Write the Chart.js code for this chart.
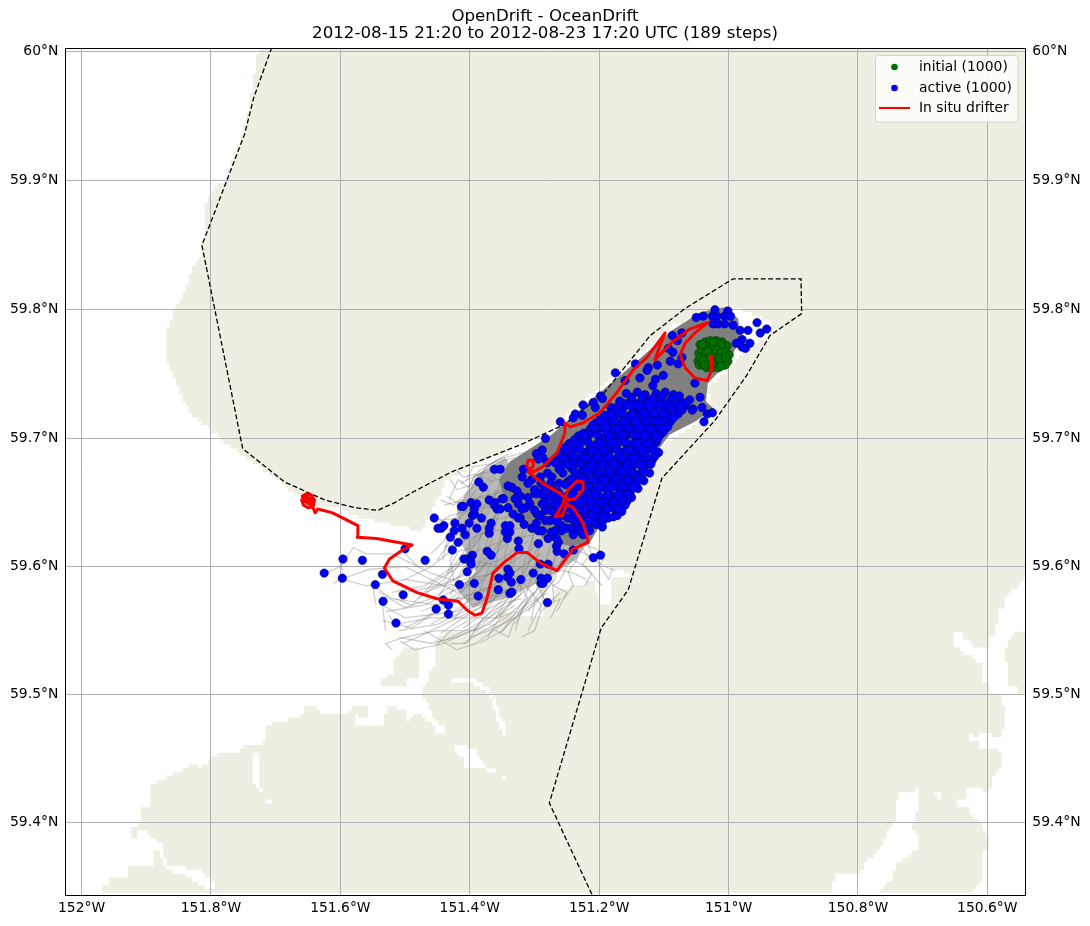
<!DOCTYPE html>
<html>
<head>
<meta charset="utf-8">
<style>
  html, body { margin: 0; padding: 0; background: #fff; }
  #wrap { width: 1090px; height: 926px; }
</style>
<script src="https://cdn.jsdelivr.net/npm/chart.js@4/dist/chart.umd.js"></script>
</head>
<body>
<div id="wrap"><canvas id="map" width="1090" height="926"></canvas></div>
<script>
const titleLines = ['OpenDrift - OceanDrift', '2012-08-15 21:20 to 2012-08-23 17:20 UTC (189 steps)'];
const lonTicks = [-152, -151.8, -151.6, -151.4, -151.2, -151, -150.8, -150.6];
const lonLabels = ['152°W', '151.8°W', '151.6°W', '151.4°W', '151.2°W', '151°W', '150.8°W', '150.6°W'];
const latTicks = [60, 59.9, 59.8, 59.7, 59.6, 59.5, 59.4];
const latLabels = ['60°N', '59.9°N', '59.8°N', '59.7°N', '59.6°N', '59.5°N', '59.4°N'];
const legendLabels = ['initial (1000)', 'active (1000)', 'In situ drifter'];

// sea, west of the land mass and up the inlet
const seaWest = [[-151.726,60.003],[-151.726,60.001],[-151.731,59.991],[-151.734,59.975],[-151.740,59.960],[-151.744,59.947],[-151.755,59.931],[-151.771,59.913],[-151.778,59.900],[-151.789,59.898],[-151.806,59.887],[-151.809,59.875],[-151.809,59.860],[-151.817,59.840],[-151.828,59.833],[-151.837,59.820],[-151.845,59.809],[-151.853,59.802],[-151.860,59.798],[-151.863,59.789],[-151.871,59.782],[-151.871,59.766],[-151.863,59.753],[-151.853,59.743],[-151.840,59.727],[-151.828,59.717],[-151.802,59.708],[-151.786,59.699],[-151.758,59.689],[-151.740,59.683],[-151.717,59.674],[-151.693,59.666],[-151.683,59.661],[-151.663,59.654],[-151.632,59.646],[-151.601,59.646],[-151.574,59.639],[-151.544,59.635],[-151.503,59.631],[-151.477,59.628],[-151.458,59.644],[-151.435,59.669],[-151.415,59.671],[-151.389,59.682],[-151.353,59.687],[-151.322,59.697],[-151.287,59.704],[-151.230,59.727],[-151.199,59.740],[-151.148,59.761],[-151.086,59.788],[-151.049,59.793],[-150.998,59.803],[-150.975,59.799],[-150.933,59.790],[-150.936,59.780],[-150.975,59.768],[-150.998,59.753],[-151.034,59.740],[-151.024,59.719],[-151.106,59.693],[-151.122,59.673],[-151.137,59.665],[-151.183,59.649],[-151.203,59.628],[-151.199,59.613],[-151.191,59.601],[-151.152,59.595],[-151.152,59.591],[-151.180,59.593],[-151.180,59.570],[-151.199,59.570],[-151.207,59.589],[-151.268,59.581],[-151.284,59.570],[-151.285,59.562],[-151.333,59.562],[-151.333,59.565],[-151.353,59.565],[-151.353,59.557],[-151.373,59.553],[-151.399,59.550],[-151.435,59.550],[-151.451,59.542],[-151.451,59.525],[-151.465,59.516],[-151.465,59.509],[-151.474,59.507],[-151.474,59.497],[-151.465,59.493],[-151.451,59.478],[-151.438,59.476],[-151.438,59.471],[-151.451,59.471],[-151.457,59.476],[-151.474,59.484],[-151.488,59.484],[-151.496,59.479],[-151.496,59.496],[-151.485,59.496],[-151.500,59.488],[-151.513,59.488],[-151.516,59.492],[-151.527,59.492],[-151.534,59.476],[-151.575,59.476],[-151.575,59.484],[-151.557,59.480],[-151.557,59.488],[-151.562,59.492],[-151.581,59.492],[-151.588,59.484],[-151.621,59.484],[-151.635,59.488],[-151.635,59.492],[-151.655,59.492],[-151.659,59.484],[-151.689,59.479],[-151.714,59.476],[-151.714,59.463],[-151.751,59.459],[-151.758,59.454],[-151.783,59.454],[-151.797,59.451],[-151.802,59.447],[-151.817,59.443],[-151.829,59.447],[-151.833,59.443],[-151.851,59.439],[-151.871,59.434],[-151.893,59.430],[-151.896,59.412],[-151.908,59.410],[-151.908,59.400],[-151.921,59.396],[-151.921,59.388],[-151.915,59.388],[-151.915,59.394],[-151.901,59.394],[-151.894,59.388],[-151.876,59.384],[-151.876,59.375],[-151.867,59.367],[-151.840,59.367],[-151.840,59.362],[-151.817,59.362],[-151.802,59.355],[-151.791,59.347],[-151.799,59.347],[-151.814,59.350],[-151.828,59.355],[-151.840,59.359],[-151.867,59.362],[-151.876,59.367],[-151.876,59.371],[-151.879,59.379],[-151.891,59.379],[-151.891,59.367],[-151.927,59.367],[-151.930,59.355],[-151.959,59.355],[-151.959,59.350],[-151.969,59.350],[-151.969,59.3445],[-152.034,59.3445],[-152.034,60.003]];
const seaEast = [[-150.539,59.593],[-150.553,59.585],[-150.565,59.579],[-150.574,59.575],[-150.574,59.567],[-150.583,59.567],[-150.583,59.554],[-150.587,59.554],[-150.587,59.546],[-150.600,59.546],[-150.600,59.538],[-150.621,59.538],[-150.621,59.541],[-150.635,59.542],[-150.638,59.550],[-150.650,59.550],[-150.653,59.542],[-150.650,59.538],[-150.641,59.537],[-150.638,59.530],[-150.625,59.530],[-150.621,59.527],[-150.608,59.525],[-150.607,59.511],[-150.599,59.507],[-150.599,59.500],[-150.580,59.500],[-150.576,59.496],[-150.574,59.472],[-150.579,59.472],[-150.579,59.467],[-150.593,59.467],[-150.596,59.471],[-150.621,59.467],[-150.624,59.471],[-150.630,59.464],[-150.613,59.464],[-150.613,59.459],[-150.585,59.459],[-150.579,59.454],[-150.579,59.442],[-150.585,59.438],[-150.593,59.437],[-150.594,59.426],[-150.600,59.423],[-150.608,59.426],[-150.630,59.426],[-150.633,59.417],[-150.647,59.417],[-150.647,59.413],[-150.630,59.412],[-150.624,59.405],[-150.616,59.401],[-150.607,59.396],[-150.596,59.384],[-150.600,59.379],[-150.611,59.379],[-150.607,59.370],[-150.607,59.356],[-150.614,59.350],[-150.622,59.346],[-150.639,59.3445],[-150.539,59.3445],[-150.539,59.500],[-150.553,59.500],[-150.555,59.505],[-150.569,59.509],[-150.569,59.520],[-150.563,59.522],[-150.572,59.527],[-150.572,59.535],[-150.569,59.542],[-150.560,59.546],[-150.556,59.550],[-150.539,59.550]];
const seaChannel = [[-150.707,59.430],[-150.712,59.425],[-150.731,59.425],[-150.738,59.421],[-150.741,59.401],[-150.754,59.392],[-150.762,59.380],[-150.782,59.371],[-150.797,59.361],[-150.836,59.358],[-150.840,59.3445],[-150.769,59.3445],[-150.761,59.351],[-150.746,59.356],[-150.743,59.367],[-150.727,59.371],[-150.707,59.380],[-150.707,59.391],[-150.715,59.392],[-150.713,59.408],[-150.706,59.409],[-150.704,59.427]];
const seaBottom = [[-152.03,59.3445],[-150.53,59.3445],[-150.53,59.335],[-152.03,59.335]];
const creekA = [[-151.428,59.513],[-151.388,59.513],[-151.388,59.509],[-151.372,59.506],[-151.367,59.501],[-151.358,59.496],[-151.356,59.486],[-151.350,59.481],[-151.344,59.476],[-151.343,59.467],[-151.349,59.467],[-151.353,59.477],[-151.360,59.483],[-151.363,59.492],[-151.369,59.499],[-151.381,59.504],[-151.397,59.509],[-151.428,59.509]];
const creekB = [[-151.426,59.460],[-151.404,59.459],[-151.393,59.459],[-151.387,59.451],[-151.375,59.445],[-151.375,59.442],[-151.406,59.442],[-151.411,59.450],[-151.421,59.455]];
const creekC = [[-151.372,59.442],[-151.358,59.442],[-151.358,59.439],[-151.372,59.439]];
const creekD = [[-151.350,59.437],[-151.343,59.437],[-151.343,59.432],[-151.350,59.432]];
const creekE = [[-151.735,59.453],[-151.726,59.457],[-151.726,59.435],[-151.721,59.423],[-151.729,59.426],[-151.737,59.433],[-151.734,59.442]];
const creekF = [[-151.716,59.419],[-151.708,59.419],[-151.708,59.414],[-151.716,59.414]];
const creekG = [[-150.683,59.426],[-150.672,59.422],[-150.672,59.417],[-150.680,59.420]];
const island = [[-151.539,59.513],[-151.527,59.513],[-151.527,59.517],[-151.519,59.517],[-151.519,59.525],[-151.508,59.532],[-151.500,59.538],[-151.480,59.538],[-151.480,59.513],[-151.496,59.513],[-151.496,59.505],[-151.539,59.505]];

const domainLine = [[-151.706,60.003],[-151.734,59.964],[-151.748,59.936],[-151.814,59.850],[-151.751,59.692],[-151.686,59.666],[-151.624,59.652],[-151.578,59.646],[-151.542,59.644],[-151.516,59.650],[-151.485,59.659],[-151.428,59.674],[-151.322,59.695],[-151.253,59.711],[-151.193,59.735],[-151.121,59.780],[-151.067,59.801],[-150.993,59.824],[-150.888,59.824],[-150.887,59.797],[-150.936,59.780],[-150.972,59.749],[-151.021,59.714],[-151.103,59.669],[-151.155,59.582],[-151.197,59.552],[-151.277,59.415],[-151.211,59.343]];

const drifter = [[-151.027,59.764],[-151.026,59.753],[-151.033,59.745],[-151.052,59.747],[-151.067,59.755],[-151.075,59.765],[-151.067,59.774],[-151.052,59.782],[-151.032,59.790],[-151.060,59.785],[-151.087,59.775],[-151.114,59.761],[-151.106,59.772],[-151.098,59.782],[-151.126,59.763],[-151.148,59.753],[-151.172,59.736],[-151.199,59.720],[-151.225,59.712],[-151.245,59.709],[-151.253,59.712],[-151.253,59.704],[-151.265,59.689],[-151.287,59.678],[-151.302,59.674],[-151.312,59.678],[-151.310,59.683],[-151.302,59.683],[-151.302,59.678],[-151.310,59.674],[-151.287,59.665],[-151.260,59.657],[-151.250,59.652],[-151.237,59.653],[-151.225,59.660],[-151.225,59.666],[-151.234,59.667],[-151.248,59.660],[-151.256,59.649],[-151.268,59.639],[-151.257,59.640],[-151.250,59.649],[-151.240,59.646],[-151.227,59.636],[-151.219,59.625],[-151.217,59.619],[-151.240,59.614],[-151.265,59.597],[-151.291,59.603],[-151.311,59.611],[-151.327,59.611],[-151.348,59.603],[-151.364,59.595],[-151.373,59.576],[-151.381,59.564],[-151.392,59.562],[-151.404,59.566],[-151.418,59.573],[-151.451,59.575],[-151.482,59.580],[-151.519,59.589],[-151.532,59.599],[-151.524,59.606],[-151.504,59.613],[-151.489,59.617],[-151.544,59.622],[-151.574,59.623],[-151.573,59.632],[-151.612,59.642],[-151.635,59.645],[-151.639,59.642],[-151.644,59.648],[-151.655,59.651],[-151.659,59.655],[-151.652,59.657],[-151.645,59.656],[-151.640,59.652],[-151.642,59.647],[-151.650,59.646],[-151.657,59.648],[-151.660,59.652],[-151.653,59.655],[-151.645,59.653],[-151.644,59.650],[-151.650,59.649],[-151.654,59.652],[-151.649,59.653],[-151.647,59.651],[-151.650,59.651]];

// the part of the inlet where the tracks merge into solid grey
const trackCore = [[-151.044,59.798],[-151.006,59.802],[-150.985,59.793],[-150.982,59.776],[-151.001,59.759],[-151.032,59.743],[-151.035,59.729],[-151.023,59.723],[-151.052,59.713],[-151.091,59.703],[-151.106,59.693],[-151.119,59.674],[-151.140,59.664],[-151.180,59.649],[-151.199,59.632],[-151.214,59.619],[-151.245,59.616],[-151.284,59.622],[-151.320,59.634],[-151.345,59.650],[-151.355,59.668],[-151.338,59.682],[-151.307,59.692],[-151.273,59.703],[-151.226,59.724],[-151.191,59.739],[-151.144,59.759],[-151.087,59.784]];
const trackShade = [[-151.345,59.685],[-151.385,59.673],[-151.420,59.645],[-151.415,59.620],[-151.390,59.596],[-151.420,59.582],[-151.395,59.568],[-151.340,59.576],[-151.285,59.590],[-151.235,59.606],[-151.214,59.622],[-151.300,59.650]];
const fanTracks = [
  [[-151.33,59.67],[-151.39,59.665],[-151.42,59.66],[-151.43,59.668]],
  [[-151.33,59.66],[-151.38,59.655],[-151.42,59.65],[-151.435,59.655]],
  [[-151.34,59.65],[-151.39,59.645],[-151.43,59.64],[-151.455,59.632]],
  [[-151.33,59.64],[-151.38,59.635],[-151.425,59.632],[-151.46,59.64]],
  [[-151.32,59.63],[-151.37,59.628],[-151.41,59.62],[-151.44,59.615]],
  [[-151.30,59.625],[-151.35,59.62],[-151.40,59.61],[-151.42,59.60]],
  [[-151.36,59.675],[-151.41,59.67],[-151.42,59.675]],
  [[-151.32,59.65],[-151.35,59.62],[-151.40,59.595],[-151.45,59.585],[-151.50,59.58]],
  [[-151.40,59.585],[-151.46,59.595],[-151.52,59.61],[-151.56,59.61],[-151.58,59.615],[-151.60,59.60],[-151.625,59.595]],
  [[-151.42,59.58],[-151.50,59.60],[-151.555,59.598],[-151.60,59.59],[-151.611,59.587]],
  [[-151.38,59.59],[-151.44,59.585],[-151.50,59.59],[-151.56,59.585],[-151.595,59.59],[-151.60,59.605]],
  [[-151.36,59.585],[-151.45,59.57],[-151.52,59.575],[-151.55,59.585],[-151.545,59.57]],
  [[-151.35,59.58],[-151.42,59.565],[-151.50,59.56],[-151.535,59.57],[-151.53,59.55]],
  [[-151.34,59.575],[-151.40,59.56],[-151.46,59.56],[-151.515,59.555],[-151.525,59.562]],
  [[-151.33,59.57],[-151.39,59.55],[-151.45,59.55],[-151.50,59.545],[-151.53,59.54],[-151.52,59.535]],
  [[-151.35,59.57],[-151.38,59.555],[-151.44,59.54],[-151.485,59.535],[-151.508,59.542]],
  [[-151.33,59.575],[-151.37,59.555],[-151.42,59.545],[-151.46,59.54],[-151.51,59.545]],
  [[-151.30,59.575],[-151.35,59.555],[-151.39,59.54],[-151.42,59.535],[-151.47,59.55]],
  [[-151.42,59.60],[-151.48,59.60],[-151.50,59.61],[-151.49,59.62]],
  [[-151.30,59.58],[-151.33,59.56],[-151.37,59.55],[-151.40,59.545]],
  [[-151.28,59.58],[-151.32,59.565],[-151.35,59.55],[-151.385,59.54]],
  [[-151.27,59.59],[-151.30,59.57],[-151.33,59.56],[-151.34,59.545],[-151.36,59.55]],
  [[-151.26,59.58],[-151.29,59.565],[-151.30,59.55],[-151.32,59.545]],
  [[-151.24,59.625],[-151.22,59.61],[-151.19,59.60],[-151.175,59.597]],
  [[-151.24,59.615],[-151.205,59.605],[-151.185,59.59],[-151.18,59.598]],
  [[-151.26,59.61],[-151.22,59.60],[-151.205,59.59],[-151.195,59.585]],
  [[-151.25,59.62],[-151.21,59.615],[-151.19,59.61],[-151.20,59.60]],
  [[-151.28,59.60],[-151.24,59.595],[-151.22,59.59]],
  [[-151.30,59.60],[-151.27,59.585],[-151.25,59.58],[-151.265,59.565]],
  [[-151.30,59.59],[-151.28,59.57],[-151.26,59.575],[-151.275,59.56]],
  [[-151.32,59.59],[-151.29,59.57],[-151.31,59.55]],
  [[-151.34,59.60],[-151.31,59.575],[-151.33,59.555]],
  [[-151.33,59.68],[-151.36,59.64],[-151.38,59.61],[-151.40,59.585]],
  [[-151.31,59.66],[-151.34,59.63],[-151.37,59.60],[-151.39,59.575]],
  [[-151.29,59.65],[-151.32,59.62],[-151.35,59.59],[-151.38,59.565]],
  [[-151.27,59.64],[-151.30,59.61],[-151.33,59.585],[-151.36,59.56]],
  [[-151.35,59.67],[-151.38,59.63],[-151.42,59.60],[-151.45,59.575]],
  [[-151.37,59.66],[-151.39,59.625],[-151.44,59.59],[-151.48,59.575]],
  [[-151.38,59.65],[-151.41,59.62],[-151.46,59.60],[-151.50,59.59]],
  [[-151.39,59.66],[-151.42,59.64],[-151.44,59.62],[-151.46,59.61]],
  [[-151.30,59.63],[-151.31,59.60],[-151.34,59.57]],
  [[-151.26,59.62],[-151.28,59.59],[-151.31,59.565]],
  [[-151.25,59.63],[-151.26,59.60],[-151.29,59.58]],
  [[-151.36,59.64],[-151.41,59.605],[-151.47,59.585],[-151.52,59.58]],
  [[-151.34,59.62],[-151.41,59.585],[-151.47,59.57],[-151.53,59.565]],
  [[-151.32,59.60],[-151.39,59.57],[-151.45,59.555],[-151.51,59.55]],
  [[-151.35,59.685],[-151.385,59.675],[-151.402,59.662],[-151.418,59.668],[-151.432,59.652]],
  [[-151.34,59.68],[-151.372,59.668],[-151.392,59.672],[-151.41,59.652],[-151.44,59.648]],
  [[-151.33,59.672],[-151.365,59.655],[-151.398,59.652],[-151.416,59.638],[-151.448,59.636]],
  [[-151.35,59.66],[-151.378,59.648],[-151.405,59.628],[-151.428,59.622],[-151.45,59.605]],
  [[-151.34,59.655],[-151.372,59.632],[-151.395,59.615],[-151.418,59.612],[-151.435,59.595]],
  [[-151.36,59.66],[-151.376,59.64],[-151.388,59.612],[-151.412,59.598],[-151.43,59.578]],
  [[-151.345,59.665],[-151.36,59.632],[-151.378,59.60],[-151.41,59.582],[-151.44,59.562]],
  [[-151.33,59.655],[-151.352,59.628],[-151.36,59.60],[-151.388,59.585],[-151.425,59.558]],
  [[-151.32,59.645],[-151.345,59.612],[-151.35,59.585],[-151.375,59.565],[-151.41,59.552]],
  [[-151.31,59.64],[-151.33,59.61],[-151.338,59.58],[-151.362,59.568],[-151.395,59.55]],
  [[-151.295,59.635],[-151.318,59.60],[-151.322,59.578],[-151.348,59.565],[-151.372,59.545]],
  [[-151.285,59.63],[-151.30,59.60],[-151.315,59.575],[-151.335,59.56],[-151.352,59.548]],
  [[-151.27,59.625],[-151.285,59.60],[-151.298,59.58],[-151.318,59.568],[-151.33,59.55]],
  [[-151.255,59.625],[-151.272,59.60],[-151.282,59.582],[-151.30,59.572],[-151.305,59.558]],
  [[-151.24,59.62],[-151.262,59.602],[-151.268,59.59],[-151.285,59.58],[-151.292,59.565]],
  [[-151.232,59.612],[-151.25,59.60],[-151.262,59.588],[-151.272,59.585],[-151.27,59.572]],
  [[-151.228,59.62],[-151.235,59.605],[-151.248,59.596],[-151.24,59.585],[-151.255,59.575]],
  [[-151.22,59.622],[-151.212,59.61],[-151.226,59.602],[-151.212,59.594],[-151.222,59.585]],
  [[-151.31,59.62],[-151.355,59.605],[-151.40,59.598],[-151.43,59.588],[-151.468,59.58]],
  [[-151.30,59.615],[-151.345,59.60],[-151.39,59.59],[-151.43,59.575],[-151.475,59.565]],
  [[-151.29,59.61],[-151.335,59.595],[-151.38,59.58],[-151.425,59.565],[-151.46,59.555]],
  [[-151.28,59.605],[-151.32,59.59],[-151.37,59.572],[-151.41,59.56],[-151.445,59.548]],
  [[-151.27,59.60],[-151.31,59.583],[-151.355,59.565],[-151.40,59.552],[-151.44,59.542]],
  [[-151.26,59.60],[-151.30,59.58],[-151.345,59.56],[-151.385,59.548],[-151.41,59.54]],
  [[-151.35,59.60],[-151.40,59.605],[-151.455,59.588],[-151.49,59.57],[-151.515,59.575]],
  [[-151.36,59.595],[-151.41,59.59],[-151.46,59.575],[-151.50,59.568],[-151.54,59.58]],
  [[-151.345,59.59],[-151.40,59.578],[-151.45,59.565],[-151.49,59.552],[-151.535,59.558]],
  [[-151.34,59.582],[-151.385,59.568],[-151.44,59.555],[-151.48,59.545],[-151.505,59.54]],
  [[-151.33,59.585],[-151.38,59.575],[-151.425,59.575],[-151.47,59.56],[-151.50,59.552]],
  [[-151.33,59.565],[-151.355,59.56],[-151.395,59.56],[-151.43,59.55],[-151.452,59.538]],
  [[-151.32,59.575],[-151.345,59.572],[-151.38,59.56],[-151.405,59.54],[-151.43,59.54]],
  [[-151.33,59.685],[-151.37,59.68],[-151.395,59.678],[-151.405,59.668]],
  [[-151.31,59.69],[-151.36,59.683],[-151.385,59.672],[-151.415,59.665]],
  [[-151.34,59.688],[-151.375,59.678],[-151.388,59.665],[-151.425,59.648],[-151.445,59.652]],
  [[-151.36,59.67],[-151.395,59.648],[-151.42,59.635],[-151.435,59.62],[-151.442,59.605]],
  [[-151.355,59.655],[-151.385,59.642],[-151.415,59.625],[-151.43,59.605],[-151.425,59.59]]
];

const initialPoints = [[-151.044,59.773],[-151.036,59.775],[-151.028,59.776],[-151.019,59.776],[-151.010,59.775],[-151.002,59.772],[-151.046,59.766],[-151.042,59.769],[-151.033,59.771],[-151.024,59.772],[-151.015,59.771],[-151.006,59.768],[-150.999,59.765],[-151.047,59.760],[-151.044,59.763],[-151.036,59.765],[-151.027,59.766],[-151.018,59.765],[-151.009,59.763],[-151.001,59.760],[-151.045,59.757],[-151.040,59.758],[-151.031,59.760],[-151.022,59.760],[-151.013,59.759],[-151.005,59.757],[-151.034,59.755],[-151.025,59.755],[-151.016,59.755],[-151.040,59.773],[-151.023,59.775],[-151.012,59.773],[-151.032,59.768],[-151.019,59.769],[-151.011,59.767],[-151.039,59.761],[-151.028,59.763],[-151.014,59.762],[-151.004,59.763],[-151.037,59.757],[-151.026,59.758],[-151.012,59.756]];
const activeOuter = [[-151.596,59.606],[-151.566,59.605],[-151.625,59.595],[-151.597,59.591],[-151.535,59.594],[-151.546,59.586],[-151.534,59.573],[-151.503,59.578],[-151.514,59.556],[-151.500,59.614],[-151.469,59.605],[-151.452,59.567],[-151.441,59.574],[-151.433,59.570],[-151.433,59.563],[-151.416,59.586],[-151.393,59.587],[-151.387,59.577],[-151.404,59.596],[-151.355,59.591],[-151.356,59.582],[-151.342,59.592],[-151.341,59.598],[-151.338,59.595],[-151.336,59.588],[-151.338,59.579],[-151.335,59.580],[-151.321,59.590],[-151.302,59.595],[-151.290,59.591],[-151.280,59.591],[-151.290,59.587],[-151.287,59.587],[-151.280,59.572],[-151.291,59.602],[-151.279,59.602],[-151.209,59.607],[-151.198,59.609],[-151.240,59.613],[-151.254,59.610],[-151.265,59.612],[-151.266,59.616],[-151.263,59.619],[-151.266,59.622],[-151.294,59.618],[-151.279,59.622],[-151.304,59.630],[-151.294,59.628],[-151.288,59.628],[-151.274,59.627],[-151.324,59.614],[-151.325,59.620],[-151.342,59.622],[-151.338,59.627],[-151.345,59.627],[-151.345,59.632],[-151.338,59.632],[-151.316,59.633],[-151.297,59.634],[-151.367,59.609],[-151.373,59.612],[-151.370,59.626],[-151.370,59.630],[-151.367,59.634],[-151.389,59.630],[-151.407,59.625],[-151.418,59.619],[-151.427,59.613],[-151.430,59.623],[-151.424,59.628],[-151.412,59.630],[-151.401,59.634],[-151.423,59.634],[-151.455,59.638],[-151.440,59.632],[-151.444,59.630],[-151.449,59.630],[-151.382,59.638],[-151.396,59.640],[-151.393,59.641],[-151.393,59.645],[-151.413,59.647],[-151.410,59.647],[-151.398,59.650],[-151.389,59.649],[-151.370,59.652],[-151.361,59.650],[-151.362,59.648],[-151.358,59.645],[-151.353,59.645],[-151.350,59.653],[-151.341,59.646],[-151.379,59.662],[-151.386,59.666],[-151.409,59.606],[-151.404,59.606],[-151.396,59.609],[-151.399,59.605],[-151.398,59.602]];
const activeMiddle = [[-151.335,59.662],[-151.341,59.663],[-151.327,59.659],[-151.322,59.655],[-151.330,59.653],[-151.325,59.649],[-151.310,59.654],[-151.307,59.649],[-151.299,59.657],[-151.294,59.657],[-151.314,59.646],[-151.319,59.645],[-151.322,59.638],[-151.325,59.638],[-151.333,59.641],[-151.348,59.653],[-151.291,59.640],[-151.283,59.636],[-151.276,59.636],[-151.296,59.641],[-151.288,59.649],[-151.271,59.648],[-151.283,59.644],[-151.268,59.641],[-151.263,59.638],[-151.249,59.638],[-151.240,59.636],[-151.249,59.630],[-151.240,59.630],[-151.232,59.632],[-151.222,59.630],[-151.214,59.634],[-151.209,59.636],[-151.203,59.641],[-151.194,59.648],[-151.206,59.649],[-151.180,59.654],[-151.287,59.685],[-151.296,59.688],[-151.280,59.681],[-151.317,59.676],[-151.319,59.670],[-151.304,59.668],[-151.291,59.670],[-151.280,59.673],[-151.273,59.670],[-151.262,59.665],[-151.256,59.673],[-151.249,59.666],[-151.237,59.670],[-151.362,59.676],[-151.353,59.676],[-151.271,59.654],[-151.263,59.658],[-151.234,59.653],[-151.225,59.646],[-151.209,59.657],[-151.225,59.655],[-151.217,59.652],[-151.285,59.655],[-151.275,59.655],[-151.262,59.655],[-151.283,59.650],[-151.262,59.650],[-151.252,59.650],[-151.300,59.644],[-151.275,59.644],[-151.262,59.644],[-151.268,59.628],[-151.258,59.628],[-151.232,59.628],[-151.215,59.628],[-151.240,59.625],[-151.225,59.625],[-151.300,59.660],[-151.285,59.660],[-151.272,59.660],[-151.310,59.665],[-151.290,59.665],[-151.275,59.665]];
const activeDense = [[-151.158,59.735],[-151.141,59.736],[-151.129,59.734],[-151.112,59.735],[-151.098,59.736],[-151.085,59.734],[-151.168,59.729],[-151.150,59.730],[-151.137,59.728],[-151.121,59.729],[-151.108,59.730],[-151.091,59.728],[-151.074,59.729],[-151.060,59.730],[-151.182,59.724],[-151.161,59.725],[-151.146,59.723],[-151.130,59.724],[-151.114,59.725],[-151.099,59.723],[-151.083,59.724],[-151.068,59.725],[-151.055,59.723],[-151.192,59.718],[-151.172,59.719],[-151.157,59.717],[-151.140,59.718],[-151.123,59.719],[-151.107,59.717],[-151.092,59.718],[-151.078,59.719],[-151.205,59.712],[-151.186,59.713],[-151.168,59.711],[-151.151,59.712],[-151.135,59.713],[-151.118,59.711],[-151.101,59.712],[-151.090,59.713],[-151.214,59.707],[-151.198,59.708],[-151.180,59.706],[-151.163,59.707],[-151.146,59.708],[-151.128,59.706],[-151.112,59.707],[-151.097,59.708],[-151.232,59.702],[-151.215,59.703],[-151.192,59.701],[-151.174,59.702],[-151.155,59.703],[-151.138,59.701],[-151.121,59.702],[-151.105,59.703],[-151.246,59.696],[-151.228,59.697],[-151.206,59.695],[-151.188,59.696],[-151.169,59.697],[-151.150,59.695],[-151.133,59.696],[-151.112,59.697],[-151.258,59.690],[-151.240,59.691],[-151.221,59.689],[-151.201,59.690],[-151.183,59.691],[-151.164,59.689],[-151.144,59.690],[-151.125,59.691],[-151.108,59.689],[-151.265,59.684],[-151.247,59.685],[-151.230,59.683],[-151.212,59.684],[-151.194,59.685],[-151.175,59.683],[-151.156,59.684],[-151.137,59.685],[-151.118,59.683],[-151.258,59.679],[-151.238,59.680],[-151.220,59.678],[-151.203,59.679],[-151.186,59.680],[-151.167,59.678],[-151.148,59.679],[-151.126,59.680],[-151.228,59.673],[-151.210,59.674],[-151.192,59.672],[-151.175,59.673],[-151.158,59.674],[-151.140,59.672],[-151.122,59.673],[-151.235,59.667],[-151.218,59.668],[-151.200,59.666],[-151.183,59.667],[-151.165,59.668],[-151.148,59.666],[-151.131,59.667],[-151.243,59.661],[-151.226,59.662],[-151.208,59.660],[-151.190,59.661],[-151.172,59.662],[-151.155,59.660],[-151.140,59.661],[-151.250,59.655],[-151.214,59.656],[-151.197,59.654],[-151.178,59.655],[-151.163,59.656],[-151.150,59.654],[-151.240,59.650],[-151.222,59.651],[-151.186,59.649],[-151.170,59.650],[-151.157,59.651],[-151.255,59.644],[-151.232,59.645],[-151.212,59.643],[-151.198,59.644],[-151.176,59.645],[-151.165,59.643],[-151.242,59.638],[-151.220,59.639],[-151.200,59.637],[-151.186,59.638],[-151.258,59.632],[-151.205,59.633],[-151.195,59.631]];
const activeDenseGaps = [[-151.150,59.732],[-151.133,59.733],[-151.117,59.731],[-151.102,59.733],[-151.088,59.731],[-151.076,59.733],[-151.160,59.727],[-151.143,59.726],[-151.127,59.727],[-151.112,59.726],[-151.097,59.727],[-151.081,59.726],[-151.066,59.727],[-151.175,59.721],[-151.165,59.722],[-151.148,59.720],[-151.134,59.721],[-151.116,59.722],[-151.103,59.720],[-151.086,59.721],[-151.072,59.722],[-151.198,59.715],[-151.181,59.716],[-151.163,59.714],[-151.148,59.715],[-151.131,59.716],[-151.115,59.714],[-151.099,59.715],[-151.085,59.716],[-151.210,59.710],[-151.195,59.709],[-151.176,59.710],[-151.159,59.709],[-151.142,59.710],[-151.126,59.709],[-151.109,59.710],[-151.094,59.709],[-151.224,59.704],[-151.206,59.705],[-151.188,59.704],[-151.170,59.705],[-151.151,59.704],[-151.134,59.705],[-151.117,59.704],[-151.101,59.705],[-151.238,59.699],[-151.221,59.700],[-151.200,59.698],[-151.182,59.699],[-151.162,59.700],[-151.144,59.698],[-151.127,59.699],[-151.109,59.700],[-151.252,59.693],[-151.234,59.694],[-151.214,59.692],[-151.195,59.693],[-151.176,59.694],[-151.157,59.692],[-151.139,59.693],[-151.118,59.694],[-151.261,59.687],[-151.243,59.688],[-151.226,59.686],[-151.207,59.687],[-151.188,59.688],[-151.170,59.686],[-151.150,59.687],[-151.131,59.688],[-151.114,59.686],[-151.268,59.681],[-151.250,59.682],[-151.229,59.680],[-151.211,59.681],[-151.194,59.682],[-151.177,59.680],[-151.158,59.681],[-151.137,59.682],[-151.120,59.680],[-151.262,59.676],[-151.243,59.677],[-151.224,59.675],[-151.206,59.676],[-151.188,59.677],[-151.169,59.675],[-151.150,59.676],[-151.132,59.677],[-151.222,59.670],[-151.204,59.671],[-151.187,59.669],[-151.170,59.670],[-151.152,59.671],[-151.135,59.669],[-151.252,59.664],[-151.234,59.665],[-151.213,59.663],[-151.196,59.664],[-151.177,59.665],[-151.160,59.663],[-151.143,59.664],[-151.240,59.658],[-151.220,59.659],[-151.203,59.657],[-151.185,59.658],[-151.168,59.659],[-151.152,59.657],[-151.248,59.652],[-151.231,59.653],[-151.206,59.652],[-151.192,59.651],[-151.176,59.652],[-151.160,59.648],[-151.262,59.647],[-151.245,59.648],[-151.215,59.647],[-151.190,59.646],[-151.178,59.648],[-151.168,59.647],[-151.238,59.641],[-151.225,59.642],[-151.205,59.640],[-151.190,59.641],[-151.172,59.640],[-151.265,59.635],[-151.228,59.636],[-151.212,59.635],[-151.195,59.635]];
const activeDenseFill = [[-151.196,59.7135],[-151.177,59.714],[-151.160,59.713],[-151.143,59.7135],[-151.127,59.714],[-151.110,59.713],[-151.182,59.7195],[-151.165,59.720],[-151.149,59.719],[-151.131,59.7195],[-151.115,59.720],[-151.100,59.719],[-151.170,59.7255],[-151.153,59.726],[-151.138,59.725],[-151.122,59.7255],[-151.106,59.726],[-151.090,59.725],[-151.075,59.7255],[-151.206,59.708],[-151.189,59.7085],[-151.171,59.7075],[-151.154,59.708],[-151.137,59.7085],[-151.120,59.7075],[-151.104,59.708],[-151.223,59.7025],[-151.203,59.703],[-151.183,59.702],[-151.164,59.7025],[-151.146,59.703],[-151.129,59.702],[-151.113,59.7025],[-151.237,59.6965],[-151.217,59.697],[-151.197,59.696],[-151.178,59.6965],[-151.159,59.697],[-151.141,59.696],[-151.122,59.6965],[-151.249,59.691],[-151.230,59.6915],[-151.211,59.6905],[-151.192,59.691],[-151.173,59.6915],[-151.154,59.6905],[-151.134,59.691],[-151.116,59.6915],[-151.256,59.685],[-151.238,59.6855],[-151.221,59.6845],[-151.203,59.685],[-151.184,59.6855],[-151.165,59.6845],[-151.146,59.685],[-151.127,59.6855],[-151.248,59.6795],[-151.229,59.680],[-151.212,59.679],[-151.195,59.6795],[-151.176,59.680],[-151.157,59.679],[-151.137,59.6795],[-151.238,59.674],[-151.219,59.6745],[-151.201,59.6735],[-151.183,59.674],[-151.166,59.6745],[-151.149,59.6735],[-151.131,59.674],[-151.244,59.668],[-151.227,59.6685],[-151.209,59.6675],[-151.192,59.668],[-151.174,59.6685],[-151.156,59.6675],[-151.139,59.668],[-151.235,59.662],[-151.217,59.6625],[-151.199,59.6615],[-151.181,59.662],[-151.163,59.6625],[-151.147,59.6615],[-151.240,59.656],[-151.206,59.6565],[-151.187,59.6555],[-151.170,59.656],[-151.156,59.6565],[-151.231,59.6505],[-151.213,59.651],[-151.196,59.650],[-151.178,59.6505],[-151.164,59.651],[-151.244,59.645],[-151.222,59.6455],[-151.205,59.6445],[-151.187,59.645],[-151.171,59.6455],[-151.231,59.639],[-151.210,59.6395],[-151.193,59.6385],[-151.178,59.639]];
const activeNorth = [[-151.021,59.800],[-151.001,59.799],[-151.050,59.794],[-151.039,59.795],[-151.025,59.795],[-151.018,59.795],[-151.006,59.795],[-150.997,59.795],[-151.024,59.789],[-151.016,59.789],[-151.006,59.789],[-150.993,59.788],[-150.982,59.784],[-150.970,59.784],[-150.956,59.790],[-150.951,59.782],[-150.941,59.785],[-150.988,59.774],[-150.979,59.777],[-150.967,59.774],[-150.979,59.771],[-150.974,59.770],[-151.087,59.780],[-151.072,59.782],[-151.079,59.776],[-151.093,59.770],[-151.086,59.767],[-151.072,59.763],[-151.090,59.760],[-151.078,59.758],[-151.124,59.755],[-151.110,59.757],[-151.126,59.753],[-151.137,59.747],[-151.113,59.746],[-151.101,59.749],[-151.117,59.741],[-151.175,59.751],[-151.144,59.758],[-151.160,59.745],[-151.198,59.733],[-151.195,59.731],[-151.209,59.728],[-151.206,59.724],[-151.225,59.726],[-151.237,59.719],[-151.226,59.718],[-151.240,59.716],[-151.260,59.713],[-151.283,59.700],[-151.297,59.688],[-151.288,59.691],[-151.294,59.684],[-151.052,59.743],[-151.044,59.732],[-151.056,59.722],[-151.041,59.724],[-151.033,59.719],[-151.025,59.720],[-151.038,59.713]];

const LAND = '#eeeee2';
const GREEN = '#007000';
const BLUE = '#0000ff';
const RED = '#ff0000';
const xy = arr => arr.map(([x, y]) => ({ x, y }));

// lat axis of the map is Mercator
const merc = lat => Math.log(Math.tan(Math.PI / 4 + lat * Math.PI / 360));
const unmerc = m => (2 * Math.atan(Math.exp(m)) - Math.PI / 2) * 180 / Math.PI;
class MercatorScale extends Chart.LinearScale {
  getPixelForValue(value) {
    const lo = merc(this.min), hi = merc(this.max);
    return this.getPixelForDecimal((merc(value) - lo) / (hi - lo));
  }
  getValueForPixel(pixel) {
    const lo = merc(this.min), hi = merc(this.max);
    return unmerc(lo + this.getDecimalForPixel(pixel) * (hi - lo));
  }
}
MercatorScale.id = 'mercator';
MercatorScale.defaults = Chart.LinearScale.defaults;
Chart.register(MercatorScale);

const polygon = (data, kind) => ({ data: xy(data), polygon: kind, showLine: false, pointRadius: 0, pointHitRadius: 0 });
const datasets = [
  { label: legendLabels[2], data: xy(drifter), showLine: true, borderColor: RED, borderWidth: 3, pointRadius: 0, borderJoinStyle: 'round', borderCapStyle: 'round' },
  { label: legendLabels[0], data: xy(initialPoints), pointRadius: 4.2, pointBackgroundColor: GREEN, pointBorderColor: '#003000', pointBorderWidth: 0.6 },
  { label: legendLabels[1], data: xy([...activeOuter, ...activeMiddle, ...activeDense, ...activeDenseGaps, ...activeDenseFill, ...activeNorth]), pointRadius: 4.2, pointBackgroundColor: BLUE, pointBorderColor: '#000060', pointBorderWidth: 0.6 },
  { data: xy(domainLine), showLine: true, borderColor: '#000', borderWidth: 1.3, borderDash: [5, 2.5], pointRadius: 0 },
  ...fanTracks.map(t => ({ data: xy(t), showLine: true, borderColor: 'rgba(128,128,128,0.38)', borderWidth: 1.3, pointRadius: 0 })),
  polygon(trackCore, 'core'),
  polygon(trackShade, 'shade'),
  polygon(seaWest, 'sea'), polygon(seaEast, 'sea'), polygon(seaChannel, 'sea'), polygon(seaBottom, 'sea'),
  polygon(creekA, 'sea'), polygon(creekB, 'sea'), polygon(creekC, 'sea'), polygon(creekD, 'sea'),
  polygon(creekE, 'sea'), polygon(creekF, 'sea'), polygon(creekG, 'sea'),
  polygon(island, 'land')
];

const polygonStyle = { sea: '#ffffff', land: LAND, shade: 'rgba(128,128,128,0.55)', core: '#808080' };
// land mask is a raster, so coast edges are traced as steps of one cell
const cellW = 3.2, cellH = 3.9;
function traceRaster(ctx, pts) {
  let px = null, py = null;
  pts.forEach((p, k) => {
    const q = pts[(k + 1) % pts.length];
    const n = Math.max(1, Math.ceil(Math.hypot(q.x - p.x, q.y - p.y)));
    for (let s = 0; s < n; s++) {
      const sx = Math.round((p.x + (q.x - p.x) * s / n) / cellW) * cellW;
      const sy = Math.round((p.y + (q.y - p.y) * s / n) / cellH) * cellH;
      if (px === null) ctx.moveTo(sx, sy);
      else if (sx !== px || sy !== py) { ctx.lineTo(sx, py); ctx.lineTo(sx, sy); }
      px = sx; py = sy;
    }
  });
}
function fillPolygons(chart, kinds) {
  const { ctx, chartArea: a } = chart;
  ctx.save();
  ctx.beginPath();
  ctx.rect(a.left, a.top, a.right - a.left, a.bottom - a.top);
  ctx.clip();
  kinds.forEach(kind => {
    chart.data.datasets.forEach((ds, i) => {
      if (ds.polygon !== kind) return;
      const pts = chart.getDatasetMeta(i).data;
      ctx.beginPath();
      if (kind === 'sea' || kind === 'land') traceRaster(ctx, pts);
      else pts.forEach((p, k) => (k ? ctx.lineTo(p.x, p.y) : ctx.moveTo(p.x, p.y)));
      ctx.closePath();
      ctx.fillStyle = polygonStyle[kind];
      ctx.fill();
    });
  });
  ctx.restore();
}

const mapLayers = {
  id: 'mapLayers',
  beforeDraw(chart) {
    const { ctx, chartArea: a } = chart;
    ctx.save();
    ctx.fillStyle = LAND;
    ctx.fillRect(a.left, a.top, a.right - a.left, a.bottom - a.top);
    ctx.restore();
    fillPolygons(chart, ['sea', 'land']);
  },
  beforeDatasetsDraw(chart) {
    fillPolygons(chart, ['shade', 'core']);
  },
  afterDatasetsDraw(chart) {
    const { ctx, chartArea: a } = chart;
    ctx.save();
    ctx.strokeStyle = '#000';
    ctx.lineWidth = 1;
    ctx.strokeRect(Math.round(a.left) + 0.5, Math.round(a.top) + 0.5, Math.round(a.right - a.left), Math.round(a.bottom - a.top));

    // legend box, upper right inside the axes
    const box = { x: 875.5, y: 55.5, w: 142.5, h: 66.5 };
    ctx.beginPath();
    ctx.roundRect(box.x, box.y, box.w, box.h, 3);
    ctx.fillStyle = 'rgba(255,255,255,0.8)';
    ctx.fill();
    ctx.strokeStyle = 'rgba(204,204,204,0.8)';
    ctx.stroke();
    const rows = [67, 88, 108];
    ctx.fillStyle = GREEN;
    ctx.beginPath(); ctx.arc(894.5, rows[0], 3.3, 0, 2 * Math.PI); ctx.fill();
    ctx.fillStyle = BLUE;
    ctx.beginPath(); ctx.arc(894.5, rows[1], 3.3, 0, 2 * Math.PI); ctx.fill();
    ctx.strokeStyle = RED;
    ctx.lineWidth = 2.1;
    ctx.beginPath(); ctx.moveTo(879, rows[2]); ctx.lineTo(910, rows[2]); ctx.stroke();
    ctx.fillStyle = '#000';
    ctx.font = '13.9px "DejaVu Sans"';
    ctx.textBaseline = 'middle';
    ctx.textAlign = 'left';
    legendLabels.forEach((t, i) => ctx.fillText(t, 919, rows[i]));
    ctx.restore();
  }
};

const tickFont = { family: 'DejaVu Sans', size: 13.9 };
const setWidth = w => scale => { scale.width = w; };
const latAxis = (position, labelsOn) => ({
  type: 'mercator',
  position,
  min: 59.3425,
  max: 60.0022,
  grid: { display: labelsOn, color: '#b0b0b0', lineWidth: 1, drawTicks: false },
  border: { display: false },
  afterBuildTicks: scale => { scale.ticks = latTicks.map(value => ({ value })); },
  ticks: {
    autoSkip: false, padding: 7, color: '#000', font: tickFont,
    callback: (v, i) => latLabels[i]
  }
});

new Chart(document.getElementById('map'), {
  type: 'scatter',
  data: { datasets },
  options: {
    responsive: false,
    animation: false,
    devicePixelRatio: 1,
    layout: { padding: 0 },
    plugins: {
      legend: { display: false },
      tooltip: { enabled: false },
      title: {
        display: true,
        text: titleLines,
        color: '#000',
        font: { family: 'DejaVu Sans', size: 16.67, weight: 'normal', lineHeight: 1.04 },
        padding: { top: 8, bottom: 5.7 }
      }
    },
    scales: {
      x: {
        type: 'linear',
        min: -152.0252,
        max: -150.5413,
        afterBuildTicks: scale => { scale.ticks = lonTicks.map(value => ({ value })); },
        afterFit: scale => { scale.height = 30.7; },
        grid: { color: '#b0b0b0', lineWidth: 1, drawTicks: false },
        border: { display: false },
        ticks: {
          autoSkip: false, maxRotation: 0, padding: 5, color: '#000', font: tickFont,
          callback: (v, i) => lonLabels[i]
        }
      },
      y: { ...latAxis('left', true), afterFit: setWidth(65.3) },
      yRight: { ...latAxis('right', false), afterFit: setWidth(64.7) }
    }
  },
  plugins: [mapLayers]
});
</script>
</body>
</html>
